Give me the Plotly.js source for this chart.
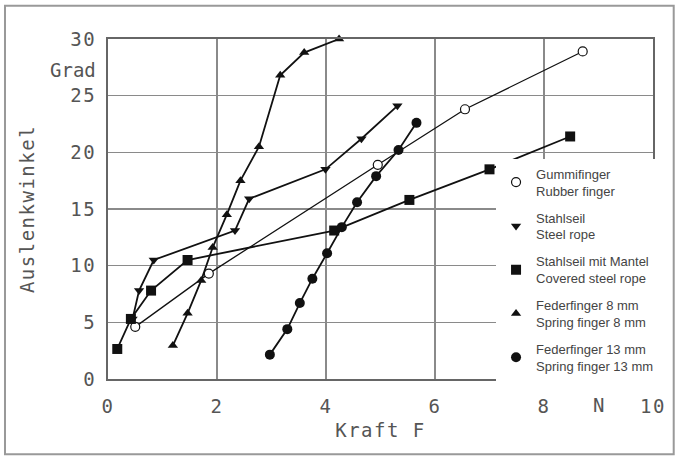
<!DOCTYPE html>
<html>
<head>
<meta charset="utf-8">
<script src="https://cdn.plot.ly/plotly-3.0.1.min.js"></script>
<style>
  html, body { margin: 0; padding: 0; background: #fff; }
  #chart { width: 678px; height: 457px; }
  .xtick text, .ytick text, .g-xtitle text, .g-ytitle text, .mono-ann text { letter-spacing: 1.5px; }
</style>
</head>
<body>
<div id="chart"></div>
<script>
// ---- data ----
const seriesNames = [
  "Gummifinger<br>Rubber finger",
  "Stahlseil<br>Steel rope",
  "Stahlseil mit Mantel<br>Covered steel rope",
  "Federfinger 8 mm<br>Spring finger 8 mm",
  "Federfinger 13 mm<br>Spring finger 13 mm"
];
const rubberX = [0.50, 1.85, 4.95, 6.55, 8.71];
const rubberY = [4.6, 9.3, 18.9, 23.8, 28.9];
const steelX = [0.45, 0.57, 0.84, 2.33, 2.59, 3.99, 4.65, 5.31];
const steelY = [5.3, 7.8, 10.5, 13.1, 15.9, 18.5, 21.2, 24.1];
const coveredX = [0.17, 0.42, 0.79, 1.46, 4.15, 5.53, 7.00, 8.48];
const coveredY = [2.65, 5.3, 7.8, 10.5, 13.1, 15.8, 18.5, 21.4];
const spring8X = [1.19, 1.46, 1.71, 1.92, 2.18, 2.43, 2.77, 3.16, 3.60, 4.24];
const spring8Y = [2.95, 5.8, 8.7, 11.6, 14.5, 17.5, 20.5, 26.8, 28.8, 30.0];
const spring13X = [2.97, 3.29, 3.52, 3.75, 4.02, 4.29, 4.57, 4.92, 5.33, 5.66];
const spring13Y = [2.15, 4.4, 6.7, 8.85, 11.1, 13.4, 15.6, 17.9, 20.2, 22.6];
const xTicks = [0, 2, 4, 6, 8, 10];
const yTicks = [0, 5, 10, 15, 20, 25, 30];
const xTitle = "Kraft F";
const yTitle = "Auslenkwinkel";
const xUnit = "N";
const yUnit = "Grad";

const seriesX = [rubberX, steelX, coveredX, spring8X, spring13X];
const seriesY = [rubberY, steelY, coveredY, spring8Y, spring13Y];
const symbols = ["circle", "triangle-down", "square", "triangle-up", "circle"];
const fills = ["#ffffff", "#111", "#111", "#111", "#111"];
const sizes = [9, 9, 10, 9, 10];
const lineWidths = [1.3, 1.8, 1.8, 1.8, 1.8];

const traces = [];
seriesX.forEach((xs, i) => {
  traces.push({
    x: xs, y: seriesY[i], type: "scatter", mode: "lines",
    line: { color: "#111", width: lineWidths[i] },
    showlegend: false, legendgroup: "g" + i, hoverinfo: "skip", cliponaxis: false
  });
  traces.push({
    x: xs, y: seriesY[i], type: "scatter", mode: "markers",
    name: seriesNames[i], legendgroup: "g" + i,
    marker: { symbol: symbols[i], size: sizes[i], color: fills[i],
              line: { color: "#111", width: i === 0 ? 1.2 : 0 } },
    cliponaxis: false
  });
});

const monoFont = { family: "DejaVu Sans Mono", size: 19, color: "#555" };

const layout = {
  width: 678, height: 457,
  margin: { l: 108, r: 25, t: 39, b: 78 },
  paper_bgcolor: "#fff", plot_bgcolor: "#fff",
  showlegend: true,
  legend: {
    x: 0.712, xanchor: "left", y: 0.648, yanchor: "top",
    bgcolor: "#fff", borderwidth: 0,
    font: { family: "Liberation Sans", size: 13, color: "#444" },
    tracegroupgap: 7, itemwidth: 30, traceorder: "grouped"
  },
  xaxis: {
    range: [0, 10], tickvals: xTicks, ticktext: xTicks.map(String),
    showgrid: true, gridcolor: "#8a8a8a", gridwidth: 1.6,
    showline: true, linecolor: "#666", linewidth: 2, mirror: true,
    zeroline: false, ticks: "", tickfont: monoFont, ticklabelstandoff: 9,
    title: { text: xTitle, font: monoFont, standoff: 8 }
  },
  yaxis: {
    range: [0, 30], tickvals: yTicks, ticktext: yTicks.map(String),
    showgrid: true, gridcolor: "#8a8a8a", gridwidth: 1.6,
    showline: true, linecolor: "#666", linewidth: 2, mirror: true,
    zeroline: false, ticks: "", tickfont: monoFont, ticklabelstandoff: 6,
    title: { text: yTitle, font: monoFont, standoff: 31 }
  },
  annotations: [
    { text: yUnit, xref: "paper", yref: "y", x: -0.018, y: 27.3,
      xanchor: "right", yanchor: "middle", showarrow: false, font: monoFont },
    { text: xUnit, xref: "x", yref: "paper", x: 9, y: -0.076,
      xanchor: "center", yanchor: "middle", showarrow: false, font: monoFont }
  ],
  shapes: [
    { type: "rect", xref: "paper", yref: "paper",
      x0: -0.189, x1: 1.038, y0: -0.221, y1: 1.098,
      line: { color: "#999", width: 2 }, fillcolor: "rgba(0,0,0,0)", layer: "below" }
  ]
};

Plotly.newPlot("chart", traces, layout, { displayModeBar: false, staticPlot: true });
</script>
</body>
</html>
